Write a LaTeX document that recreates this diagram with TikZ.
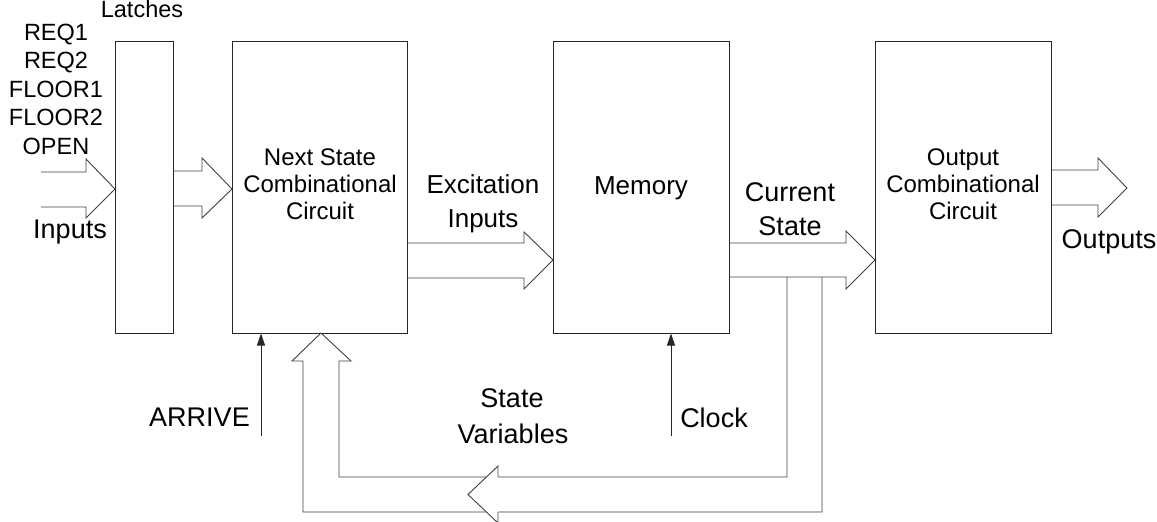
\documentclass[tikz,border=0pt]{standalone}
\usepackage{fontspec}
\setmainfont{Liberation Sans}
\usetikzlibrary{arrows.meta}
\begin{document}
\begin{tikzpicture}[x=1pt,y=-1pt,
  blk/.style={draw=black!85,line width=1pt,fill=white,inner sep=0pt,minimum height=292pt},
  barrow/.style={draw=black!75,line width=0.9pt,line join=miter},
  sig/.style={draw=black!85,line width=0.9pt,-{Triangle[length=12pt,width=8pt]}},
  lbl/.style={inner sep=0pt,anchor=base,font=\fontsize{27}{32}\selectfont},
  sml/.style={inner sep=0pt,anchor=base,font=\fontsize{23.5}{28}\selectfont},
  box/.style={inner sep=0pt,anchor=base,font=\fontsize{24}{28}\selectfont}]
\useasboundingbox (0,0) rectangle (1157,522);
% boxes
\node[blk,minimum width=58pt] (lat) at (144,187) {};
\node[blk,minimum width=175pt] (ns) at (319.5,187) {};
\node[blk,minimum width=176pt] (mem) at (641,187) {};
\node[blk,minimum width=176pt] (out) at (963,187) {};
% block arrows
\draw[barrow] (41,172)--(86,172)--(86,159)--(115,189)--(86,218)--(86,207)--(41,207);
\draw[barrow] (173,171)--(202,171)--(202,158)--(232,189)--(202,218)--(202,206)--(173,206);
\draw[barrow] (407,243)--(524,243)--(524,232)--(553,260)--(524,289)--(524,278)--(407,278);
\draw[barrow] (729,243)--(846,243)--(846,231)--(875,260)--(846,289)--(846,277)--(729,277);
\draw[barrow] (1051,170)--(1098,170)--(1098,158)--(1127,188)--(1098,217)--(1098,205)--(1051,205);
% feedback
\draw[barrow] (787,277)--(787,477)--(339,477)--(339,361)--(351,361)--(321,333)--(292,361)--(303,361)--(303,512)--(822,512)--(822,277);
\draw[barrow,fill=white] (498,477)--(498,466)--(468,494.5)--(498,523)--(498,512);
% signal arrows
\coordinate (arrivefoot) at (261,436);
\coordinate (clockfoot) at (671,436);
\draw[sig] (arrivefoot) -- (arrivefoot |- ns.south);
\draw[sig] (clockfoot) -- (clockfoot |- mem.south);
% labels
\node[sml] (tlat) at (142,17) {Latches};
\node[sml] (treq1) at (56,40) {REQ1};
\node[sml] (treq2) at (56,68) {REQ2};
\node[sml] (tfl1) at (56,97) {FLOOR1};
\node[sml] (tfl2) at (56,125) {FLOOR2};
\node[sml] (topen) at (56,154) {OPEN};
\node[lbl] (tin) at (70,238) {Inputs};
\node[box] (tns1) at (320,165) {Next State};
\node[box] (tns2) at (320,192) {Combinational};
\node[box] (tns3) at (320,219) {Circuit};
\node[box] (tout1) at (963,165) {Output};
\node[box] (tout2) at (963,192) {Combinational};
\node[box] (tout3) at (963,219) {Circuit};
\node[lbl,font=\fontsize{26}{30}\selectfont] (tmem) at (641,194) {Memory};
\node[lbl,font=\fontsize{26}{30}\selectfont] (texc1) at (483,193) {Excitation};
\node[lbl,font=\fontsize{26}{30}\selectfont] (texc2) at (483,227) {Inputs};
\node[lbl] (tcur1) at (790,201) {Current};
\node[lbl] (tcur2) at (790,235) {State};
\node[lbl] (touts) at (1109,248) {Outputs};
\node[lbl] (tarr) at (199.5,426) {ARRIVE};
\node[lbl] (tclk) at (714,427) {Clock};
\node[lbl] (tsv1) at (512,407) {State};
\node[lbl] (tsv2) at (513,443) {Variables};
\end{tikzpicture}
\end{document}
